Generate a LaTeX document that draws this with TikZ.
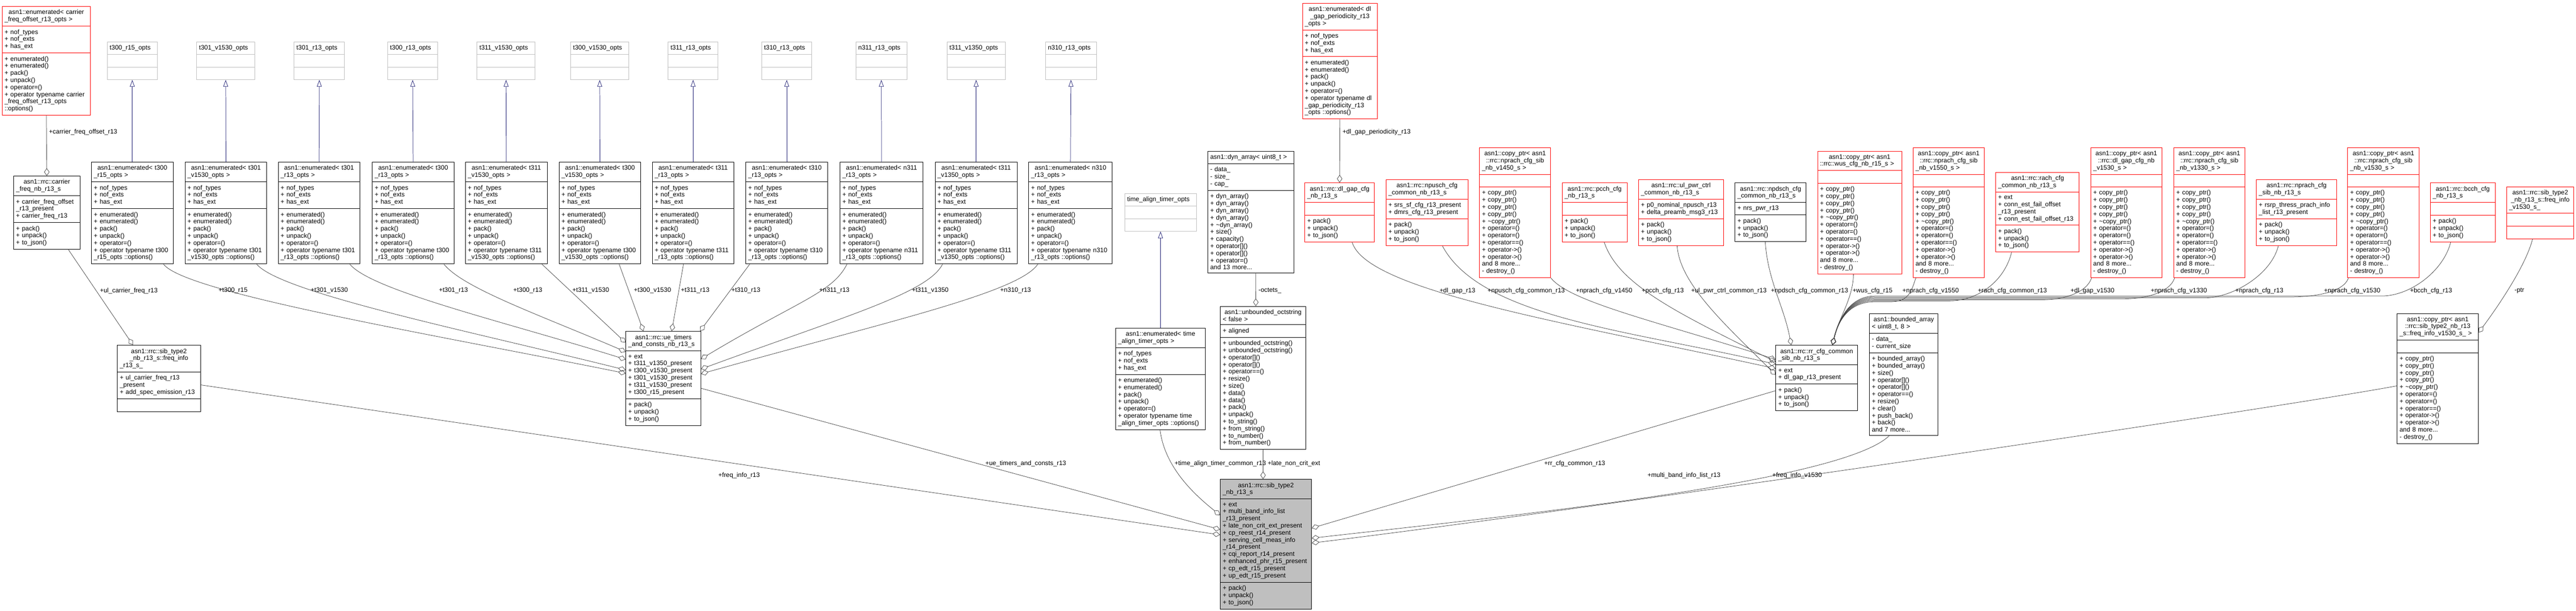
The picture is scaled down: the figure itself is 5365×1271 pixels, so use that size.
\documentclass[tikz,border=0pt]{standalone}
\usepackage{fontspec}
\setmainfont{Liberation Sans}
\usetikzlibrary{shapes.multipart,arrows.meta}
\definecolor{edgegrey}{HTML}{404040}
\definecolor{midblue}{HTML}{191970}
\definecolor{optgrey}{HTML}{BFBFBF}
\newcommand{\emptyrow}{\rule[-3pt]{0pt}{12.5pt}}
\setlength{\parindent}{0pt}
\hyphenpenalty=10000
\exhyphenpenalty=10000

\begin{document}
\begin{tikzpicture}[x=1pt, y=-1pt,
  every node/.style={font=\fontsize{13.3}{14.8}\selectfont},
  cls/.style={rectangle split, rectangle split parts=3, draw=black, line width=1pt, fill=white, text width=#1, inner xsep=5pt, inner ysep=6.4pt, align=left, anchor=north west},
  redcls/.style={cls=#1, draw=red},
  optcls/.style={cls=#1, draw=optgrey},
  maincls/.style={cls=#1, fill=optgrey},
  aggr/.style={draw=edgegrey, line width=0.8pt, -{Diamond[open, length=16pt, width=11pt]}},
  inherit/.style={draw=midblue, line width=0.8pt, -{Triangle[open, length=14pt, width=10pt]}},
  elabel/.style={anchor=west, inner sep=1pt}]
% define the page
\fill[white] (0,0) rectangle (5365,1271);
\useasboundingbox (0,0) rectangle (5365,1271);

% option classes
\node[optcls=94] (opt300r15) at (223,87) {\centering t300\_r15\_opts \nodepart{two}\emptyrow \nodepart{three}\emptyrow};
\node[optcls=111] (opt301v1530) at (409,87) {\centering t301\_v1530\_opts \nodepart{two}\emptyrow \nodepart{three}\emptyrow};
\node[optcls=95] (opt301r13) at (612,87) {\centering t301\_r13\_opts \nodepart{two}\emptyrow \nodepart{three}\emptyrow};
\node[optcls=94] (opt300r13) at (807,87) {\centering t300\_r13\_opts \nodepart{two}\emptyrow \nodepart{three}\emptyrow};
\node[optcls=111] (opt311v1530) at (993,87) {\centering t311\_v1530\_opts \nodepart{two}\emptyrow \nodepart{three}\emptyrow};
\node[optcls=111] (opt300v1530) at (1188,87) {\centering t300\_v1530\_opts \nodepart{two}\emptyrow \nodepart{three}\emptyrow};
\node[optcls=94] (opt311r13) at (1391,87) {\centering t311\_r13\_opts \nodepart{two}\emptyrow \nodepart{three}\emptyrow};
\node[optcls=94] (opt310r13) at (1586,87) {\centering t310\_r13\_opts \nodepart{two}\emptyrow \nodepart{three}\emptyrow};
\node[optcls=96] (optn311r13) at (1782,87) {\centering n311\_r13\_opts \nodepart{two}\emptyrow \nodepart{three}\emptyrow};
\node[optcls=111] (opt311v1350) at (1972,87) {\centering t311\_v1350\_opts \nodepart{two}\emptyrow \nodepart{three}\emptyrow};
\node[optcls=96] (optn310r13) at (2177,87) {\centering n310\_r13\_opts \nodepart{two}\emptyrow \nodepart{three}\emptyrow};
\node[optcls=139] (timeOpts) at (2342,402) {\centering time\_align\_timer\_opts \nodepart{two}\emptyrow \nodepart{three}\emptyrow};

% enumerated classes
\node[redcls=174] (cfoEnum) at (4,13) {\centering asn1::enumerated< carrier\\\_freq\_offset\_r13\_opts >
  \nodepart{two} + nof\_types\\+ nof\_exts\\+ has\_ext
  \nodepart{three} + enumerated()\\+ enumerated()\\+ pack()\\+ unpack()\\+ operator=()\\+ operator typename carrier\\\_freq\_offset\_r13\_opts\\::options()};
\node[cls=160] (en300r15) at (190,337) {\centering asn1::enumerated< t300\\\_r15\_opts >
  \nodepart{two} + nof\_types\\+ nof\_exts\\+ has\_ext
  \nodepart{three} + enumerated()\\+ enumerated()\\+ pack()\\+ unpack()\\+ operator=()\\+ operator typename t300\\\_r15\_opts~::options()};
\node[cls=160] (en301v1530) at (385,337) {\centering asn1::enumerated< t301\\\_v1530\_opts >
  \nodepart{two} + nof\_types\\+ nof\_exts\\+ has\_ext
  \nodepart{three} + enumerated()\\+ enumerated()\\+ pack()\\+ unpack()\\+ operator=()\\+ operator typename t301\\\_v1530\_opts~::options()};
\node[cls=160] (en301r13) at (579,337) {\centering asn1::enumerated< t301\\\_r13\_opts >
  \nodepart{two} + nof\_types\\+ nof\_exts\\+ has\_ext
  \nodepart{three} + enumerated()\\+ enumerated()\\+ pack()\\+ unpack()\\+ operator=()\\+ operator typename t301\\\_r13\_opts~::options()};
\node[cls=160] (en300r13) at (775,337) {\centering asn1::enumerated< t300\\\_r13\_opts >
  \nodepart{two} + nof\_types\\+ nof\_exts\\+ has\_ext
  \nodepart{three} + enumerated()\\+ enumerated()\\+ pack()\\+ unpack()\\+ operator=()\\+ operator typename t300\\\_r13\_opts~::options()};
\node[cls=160] (en311v1530) at (969,337) {\centering asn1::enumerated< t311\\\_v1530\_opts >
  \nodepart{two} + nof\_types\\+ nof\_exts\\+ has\_ext
  \nodepart{three} + enumerated()\\+ enumerated()\\+ pack()\\+ unpack()\\+ operator=()\\+ operator typename t311\\\_v1530\_opts~::options()};
\node[cls=160] (en300v1530) at (1164,337) {\centering asn1::enumerated< t300\\\_v1530\_opts >
  \nodepart{two} + nof\_types\\+ nof\_exts\\+ has\_ext
  \nodepart{three} + enumerated()\\+ enumerated()\\+ pack()\\+ unpack()\\+ operator=()\\+ operator typename t300\\\_v1530\_opts~::options()};
\node[cls=160] (en311r13) at (1358,337) {\centering asn1::enumerated< t311\\\_r13\_opts >
  \nodepart{two} + nof\_types\\+ nof\_exts\\+ has\_ext
  \nodepart{three} + enumerated()\\+ enumerated()\\+ pack()\\+ unpack()\\+ operator=()\\+ operator typename t311\\\_r13\_opts~::options()};
\node[cls=160] (en310r13) at (1553,337) {\centering asn1::enumerated< t310\\\_r13\_opts >
  \nodepart{two} + nof\_types\\+ nof\_exts\\+ has\_ext
  \nodepart{three} + enumerated()\\+ enumerated()\\+ pack()\\+ unpack()\\+ operator=()\\+ operator typename t310\\\_r13\_opts~::options()};
\node[cls=163] (enn311r13) at (1749,337) {\centering asn1::enumerated< n311\\\_r13\_opts >
  \nodepart{two} + nof\_types\\+ nof\_exts\\+ has\_ext
  \nodepart{three} + enumerated()\\+ enumerated()\\+ pack()\\+ unpack()\\+ operator=()\\+ operator typename n311\\\_r13\_opts~::options()};
\node[cls=161] (en311v1350) at (1947,337) {\centering asn1::enumerated< t311\\\_v1350\_opts >
  \nodepart{two} + nof\_types\\+ nof\_exts\\+ has\_ext
  \nodepart{three} + enumerated()\\+ enumerated()\\+ pack()\\+ unpack()\\+ operator=()\\+ operator typename t311\\\_v1350\_opts~::options()};
\node[cls=164] (enn310r13) at (2142,337) {\centering asn1::enumerated< n310\\\_r13\_opts >
  \nodepart{two} + nof\_types\\+ nof\_exts\\+ has\_ext
  \nodepart{three} + enumerated()\\+ enumerated()\\+ pack()\\+ unpack()\\+ operator=()\\+ operator typename n310\\\_r13\_opts~::options()};
\node[cls=177] (timeEnum) at (2323,682) {\centering asn1::enumerated< time\\\_align\_timer\_opts >
  \nodepart{two} + nof\_types\\+ nof\_exts\\+ has\_ext
  \nodepart{three} + enumerated()\\+ enumerated()\\+ pack()\\+ unpack()\\+ operator=()\\+ operator typename time\\\_align\_timer\_opts~::options()};
\node[redcls=146] (dlGapPer) at (2712,6) {\centering asn1::enumerated< dl\\\_gap\_periodicity\_r13\\\_opts >
  \nodepart{two} + nof\_types\\+ nof\_exts\\+ has\_ext
  \nodepart{three} + enumerated()\\+ enumerated()\\+ pack()\\+ unpack()\\+ operator=()\\+ operator typename dl\\\_gap\_periodicity\_r13\\\_opts~::options()};

% containers and helpers
\node[cls=169] (dynArr) at (2515,314) {\centering asn1::dyn\_array< uint8\_t >
  \nodepart{two} - data\_\\- size\_\\- cap\_
  \nodepart{three} + dyn\_array()\\+ dyn\_array()\\+ dyn\_array()\\+ dyn\_array()\\+ \textasciitilde dyn\_array()\\+ size()\\+ capacity()\\+ operator[]()\\+ operator[]()\\+ operator=()\\and 13 more...};
\node[cls=168] (octStr) at (2541,637) {\centering asn1::unbounded\_octstring\\< false >
  \nodepart{two} + aligned
  \nodepart{three} + unbounded\_octstring()\\+ unbounded\_octstring()\\+ operator[]()\\+ operator[]()\\+ operator==()\\+ resize()\\+ size()\\+ data()\\+ data()\\+ pack()\\+ unpack()\\+ to\_string()\\+ from\_string()\\+ to\_number()\\+ from\_number()};
\node[cls=133] (boundArr) at (3893,652) {\centering asn1::bounded\_array\\< uint8\_t, 8 >
  \nodepart{two} - data\_\\- current\_size
  \nodepart{three} + bounded\_array()\\+ bounded\_array()\\+ size()\\+ operator[]()\\+ operator[]()\\+ operator==()\\+ resize()\\+ clear()\\+ push\_back()\\+ back()\\and 7 more...};

% second row structs
\node[redcls=135] (dlGapCfg) at (2717,380) {\centering asn1::rrc::dl\_gap\_cfg\\\_nb\_r13\_s
  \nodepart{two}\emptyrow
  \nodepart{three} + pack()\\+ unpack()\\+ to\_json()};
\node[redcls=161] (npuschCfg) at (2886,373) {\centering asn1::rrc::npusch\_cfg\\\_common\_nb\_r13\_s
  \nodepart{two} + srs\_sf\_cfg\_r13\_present\\+ dmrs\_cfg\_r13\_present
  \nodepart{three} + pack()\\+ unpack()\\+ to\_json()};
\node[redcls=138] (cpV1450) at (3081,307) {\centering asn1::copy\_ptr< asn1\\::rrc::nprach\_cfg\_sib\\\_nb\_v1450\_s >
  \nodepart{two}\emptyrow
  \nodepart{three} + copy\_ptr()\\+ copy\_ptr()\\+ copy\_ptr()\\+ copy\_ptr()\\+ \textasciitilde copy\_ptr()\\+ operator=()\\+ operator=()\\+ operator==()\\+ operator->()\\+ operator->()\\and 8 more...\\- destroy\_()};
\node[redcls=125] (pcchCfg) at (3253,380) {\centering asn1::rrc::pcch\_cfg\\\_nb\_r13\_s
  \nodepart{two}\emptyrow
  \nodepart{three} + pack()\\+ unpack()\\+ to\_json()};
\node[redcls=167] (ulPwrCfg) at (3412,373) {\centering asn1::rrc::ul\_pwr\_ctrl\\\_common\_nb\_r13\_s
  \nodepart{two} + p0\_nominal\_npusch\_r13\\+ delta\_preamb\_msg3\_r13
  \nodepart{three} + pack()\\+ unpack()\\+ to\_json()};
\node[cls=138] (npdschCfg) at (3613,380) {\centering asn1::rrc::npdsch\_cfg\\\_common\_nb\_r13\_s
  \nodepart{two} + nrs\_pwr\_r13
  \nodepart{three} + pack()\\+ unpack()\\+ to\_json()};
\node[redcls=165] (cpWus) at (3785,314) {\centering asn1::copy\_ptr< asn1\\::rrc::wus\_cfg\_nb\_r15\_s~>
  \nodepart{two}\emptyrow
  \nodepart{three} + copy\_ptr()\\+ copy\_ptr()\\+ copy\_ptr()\\+ copy\_ptr()\\+ \textasciitilde copy\_ptr()\\+ operator=()\\+ operator=()\\+ operator==()\\+ operator->()\\+ operator->()\\and 8 more...\\- destroy\_()};
\node[redcls=138] (cpV1550) at (3984,307) {\centering asn1::copy\_ptr< asn1\\::rrc::nprach\_cfg\_sib\\\_nb\_v1550\_s >
  \nodepart{two}\emptyrow
  \nodepart{three} + copy\_ptr()\\+ copy\_ptr()\\+ copy\_ptr()\\+ copy\_ptr()\\+ \textasciitilde copy\_ptr()\\+ operator=()\\+ operator=()\\+ operator==()\\+ operator->()\\+ operator->()\\and 8 more...\\- destroy\_()};
\node[redcls=164] (rachCfg) at (4156,358) {\centering asn1::rrc::rach\_cfg\\\_common\_nb\_r13\_s
  \nodepart{two} + ext\\+ conn\_est\_fail\_offset\\\_r13\_present\\+ conn\_est\_fail\_offset\_r13
  \nodepart{three} + pack()\\+ unpack()\\+ to\_json()};
\node[redcls=138] (cpDlGap) at (4354,307) {\centering asn1::copy\_ptr< asn1\\::rrc::dl\_gap\_cfg\_nb\\\_v1530\_s >
  \nodepart{two}\emptyrow
  \nodepart{three} + copy\_ptr()\\+ copy\_ptr()\\+ copy\_ptr()\\+ copy\_ptr()\\+ \textasciitilde copy\_ptr()\\+ operator=()\\+ operator=()\\+ operator==()\\+ operator->()\\+ operator->()\\and 8 more...\\- destroy\_()};
\node[redcls=138] (cpV1330) at (4527,307) {\centering asn1::copy\_ptr< asn1\\::rrc::nprach\_cfg\_sib\\\_nb\_v1330\_s >
  \nodepart{two}\emptyrow
  \nodepart{three} + copy\_ptr()\\+ copy\_ptr()\\+ copy\_ptr()\\+ copy\_ptr()\\+ \textasciitilde copy\_ptr()\\+ operator=()\\+ operator=()\\+ operator==()\\+ operator->()\\+ operator->()\\and 8 more...\\- destroy\_()};
\node[redcls=157] (nprachCfg) at (4699,373) {\centering asn1::rrc::nprach\_cfg\\\_sib\_nb\_r13\_s
  \nodepart{two} + rsrp\_thress\_prach\_info\\\_list\_r13\_present
  \nodepart{three} + pack()\\+ unpack()\\+ to\_json()};
\node[redcls=139] (cpV1530) at (4889,307) {\centering asn1::copy\_ptr< asn1\\::rrc::nprach\_cfg\_sib\\\_nb\_v1530\_s >
  \nodepart{two}\emptyrow
  \nodepart{three} + copy\_ptr()\\+ copy\_ptr()\\+ copy\_ptr()\\+ copy\_ptr()\\+ \textasciitilde copy\_ptr()\\+ operator=()\\+ operator=()\\+ operator==()\\+ operator->()\\+ operator->()\\and 8 more...\\- destroy\_()};
\node[redcls=125] (bcchCfg) at (5061,380) {\centering asn1::rrc::bcch\_cfg\\\_nb\_r13\_s
  \nodepart{two}\emptyrow
  \nodepart{three} + pack()\\+ unpack()\\+ to\_json()};
\node[redcls=130] (freqV1530) at (5220,388) {\centering asn1::rrc::sib\_type2\\\_nb\_r13\_s::freq\_info\\\_v1530\_s\_
  \nodepart{two}\emptyrow
  \nodepart{three}\emptyrow};

% middle row structs
\node[cls=128] (carrierFreq) at (28,366) {\centering asn1::rrc::carrier\\\_freq\_nb\_r13\_s
  \nodepart{two} + carrier\_freq\_offset\\\_r13\_present\\+ carrier\_freq\_r13
  \nodepart{three} + pack()\\+ unpack()\\+ to\_json()};
\node[cls=163] (freqR13) at (244,718) {\centering asn1::rrc::sib\_type2\\\_nb\_r13\_s::freq\_info\\\_r13\_s\_
  \nodepart{two} + ul\_carrier\_freq\_r13\\\_present\\+ add\_spec\_emission\_r13
  \nodepart{three}\emptyrow};
\node[cls=146] (ueTimers) at (1303,689) {\centering asn1::rrc::ue\_timers\\\_and\_consts\_nb\_r13\_s
  \nodepart{two} + ext\\+ t311\_v1350\_present\\+ t300\_v1530\_present\\+ t301\_v1530\_present\\+ t311\_v1530\_present\\+ t300\_r15\_present
  \nodepart{three} + pack()\\+ unpack()\\+ to\_json()};
\node[cls=160] (rrCfg) at (3698,718) {\centering asn1::rrc::rr\_cfg\_common\\\_sib\_nb\_r13\_s
  \nodepart{two} + ext\\+ dl\_gap\_r13\_present
  \nodepart{three} + pack()\\+ unpack()\\+ to\_json()};
\node[cls=159] (cpFreq) at (4992,652) {\centering asn1::copy\_ptr< asn1\\::rrc::sib\_type2\_nb\_r13\\\_s::freq\_info\_v1530\_s\_~>
  \nodepart{two}\emptyrow
  \nodepart{three} + copy\_ptr()\\+ copy\_ptr()\\+ copy\_ptr()\\+ copy\_ptr()\\+ \textasciitilde copy\_ptr()\\+ operator=()\\+ operator=()\\+ operator==()\\+ operator->()\\+ operator->()\\and 8 more...\\- destroy\_()};

% the documented struct
\node[maincls=180] (sibTwo) at (2541,997) {\centering asn1::rrc::sib\_type2\\\_nb\_r13\_s
  \nodepart{two} + ext\\+ multi\_band\_info\_list\\\_r13\_present\\+ late\_non\_crit\_ext\_present\\+ cp\_reest\_r14\_present\\+ serving\_cell\_meas\_info\\\_r14\_present\\+ cqi\_report\_r14\_present\\+ enhanced\_phr\_r15\_present\\+ cp\_edt\_r15\_present\\+ up\_edt\_r15\_present
  \nodepart{three} + pack()\\+ unpack()\\+ to\_json()};

% inheritance
\draw[inherit] (en300r15.north) -- (opt300r15.south);
\draw[inherit] (en301v1530.north) -- (opt301v1530.south);
\draw[inherit] (en301r13.north) -- (opt301r13.south);
\draw[inherit] (en300r13.north) -- (opt300r13.south);
\draw[inherit] (en311v1530.north) -- (opt311v1530.south);
\draw[inherit] (en300v1530.north) -- (opt300v1530.south);
\draw[inherit] (en311r13.north) -- (opt311r13.south);
\draw[inherit] (en310r13.north) -- (opt310r13.south);
\draw[inherit] (enn311r13.north) -- (optn311r13.south);
\draw[inherit] (en311v1350.north) -- (opt311v1350.south);
\draw[inherit] (enn310r13.north) -- (optn310r13.south);
\draw[inherit] (timeEnum.north) -- (timeOpts.south);

% members on the left
\draw[aggr] (cfoEnum.south) -- (carrierFreq.north);
\node[elabel] at (101,275) {+carrier\_freq\_offset\_r13};
\draw[aggr] ([xshift=45]carrierFreq.south) -- ([xshift=-54]freqR13.north);
\node[elabel] at (207,605) {+ul\_carrier\_freq\_r13};

% timers into ue_timers
\draw[aggr] ([xshift=65]en300r15.south) .. controls +(45,60) and +(-400,-81) .. ([yshift=-88]ueTimers.north west);
\draw[aggr] ([xshift=64]en301v1530.south) .. controls +(50,60) and +(-320,-80) .. ([yshift=-81]ueTimers.north west);
\draw[aggr] ([xshift=64]en301r13.south) .. controls +(45,55) and +(-250,-78) .. ([yshift=-59]ueTimers.north west);
\draw[aggr] ([xshift=64]en300r13.south) .. controls +(40,50) and +(-180,-77) .. ([yshift=-43]ueTimers.north west);
\draw[aggr] ([xshift=74]en311v1530.south) -- ([yshift=-24]ueTimers.north west);
\draw[aggr] ([xshift=40]en300v1530.south) -- ([xshift=37]ueTimers.north west);
\draw[aggr] ([xshift=-20]en311r13.south) -- ([xshift=96]ueTimers.north west);
\draw[aggr] ([xshift=-77]en310r13.south) -- ([xshift=-2]ueTimers.north east);
\draw[aggr] ([xshift=-72]enn311r13.south) .. controls +(-30,60) and +(200,-120) .. ([yshift=-58]ueTimers.north east);
\draw[aggr] ([xshift=-70]en311v1350.south) .. controls +(-30,60) and +(300,-110) .. ([yshift=-79]ueTimers.north east);
\draw[aggr] ([xshift=-68]enn310r13.south) .. controls +(-40,60) and +(380,-107) .. ([yshift=-89]ueTimers.north east);
\node[elabel] at (454,605) {+t300\_r15};
\node[elabel] at (646,605) {+t301\_v1530};
\node[elabel] at (913,605) {+t301\_r13};
\node[elabel] at (1068,605) {+t300\_r13};
\node[elabel] at (1191,605) {+t311\_v1530};
\node[elabel] at (1319,605) {+t300\_v1530};
\node[elabel] at (1417,605) {+t311\_r13};
\node[elabel] at (1522,605) {+t310\_r13};
\node[elabel] at (1705,605) {+n311\_r13};
\node[elabel] at (1898,605) {+t311\_v1350};
\node[elabel] at (2082,605) {+n310\_r13};

% small links in the middle
\draw[aggr] ([xshift=10]dynArr.south) -- ([xshift=-15]octStr.north);
\node[elabel] at (2620,605) {-octets\_};
\draw[aggr] (dlGapPer.south) -- (dlGapCfg.north);
\node[elabel] at (2795,275) {+dl\_gap\_periodicity\_r13};
\draw[aggr] ([xshift=-16]freqV1530.south) .. controls +(-15,60) and +(30,-40) .. ([yshift=-40]cpFreq.north east);
\node[elabel] at (5236,605) {-ptr};

% members of rr_cfg_common, left side
\draw[aggr] ([xshift=26]dlGapCfg.south) .. controls +(30,100) and +(-450,-98) .. ([yshift=-49]rrCfg.north west);
\draw[aggr] ([xshift=32]npuschCfg.south) .. controls +(80,150) and +(-300,-70) .. ([yshift=-40]rrCfg.north west);
\draw[aggr] (cpV1450.south east) .. controls +(40,50) and +(-250,-80) .. ([yshift=-30]rrCfg.north west);
\draw[aggr] ([xshift=20]pcchCfg.south) .. controls +(30,90) and +(-200,-100) .. ([yshift=-35]rrCfg.north west);
\draw[aggr] ([xshift=-8]ulPwrCfg.south) .. controls +(5,80) and +(-100,-100) .. ([yshift=-62]rrCfg.north west);
\draw[aggr] ([xshift=-11]npdschCfg.south) .. controls +(5,80) and +(-15,-80) .. ([xshift=-53]rrCfg.north);
\node[elabel] at (2997,605) {+dl\_gap\_r13};
\node[elabel] at (3097,605) {+npusch\_cfg\_common\_r13};
\node[elabel] at (3281,605) {+nprach\_cfg\_v1450};
\node[elabel] at (3418,605) {+pcch\_cfg\_r13};
\node[elabel] at (3521,605) {+ul\_pwr\_ctrl\_common\_r13};
\node[elabel] at (3687,605) {+npdsch\_cfg\_common\_r13};

% members of rr_cfg_common, right side
\draw[aggr] ([xshift=-13]cpWus.south) .. controls +(0,50) and +(10,-50) .. ([xshift=33]rrCfg.north);
\draw[aggr] ([xshift=6]cpV1550.south west) .. controls +(-10,30) and +(40,0) .. (3935,628) -- (3905,628) .. controls +(-55,0) and +(12,-50) .. ([xshift=33]rrCfg.north);
\draw[aggr] ([xshift=-54]rachCfg.south) .. controls +(-15,60) and +(60,0) .. (4060,626) -- (3905,626) .. controls +(-55,0) and +(12,-50) .. ([xshift=33]rrCfg.north);
\draw[aggr] ([xshift=2]cpDlGap.south west) .. controls +(-10,30) and +(50,0) .. (4250,624) -- (3905,624) .. controls +(-55,0) and +(12,-50) .. ([xshift=33]rrCfg.north);
\draw[aggr] ([xshift=2]cpV1330.south west) .. controls +(-10,30) and +(50,0) .. (4420,622) -- (3905,622) .. controls +(-55,0) and +(12,-50) .. ([xshift=33]rrCfg.north);
\draw[aggr] ([xshift=-38]nprachCfg.south) .. controls +(-15,60) and +(60,0) .. (4590,620) -- (3905,620) .. controls +(-55,0) and +(12,-50) .. ([xshift=33]rrCfg.north);
\draw[aggr] ([xshift=2]cpV1530.south west) .. controls +(-10,30) and +(50,0) .. (4770,618) -- (3905,618) .. controls +(-55,0) and +(12,-50) .. ([xshift=33]rrCfg.north);
\draw[aggr] ([xshift=-25]bcchCfg.south) .. controls +(-15,60) and +(60,0) .. (4960,616) -- (3905,616) .. controls +(-55,0) and +(12,-50) .. ([xshift=33]rrCfg.north);
\node[elabel] at (3857,605) {+wus\_cfg\_r15};
\node[elabel] at (3961,605) {+nprach\_cfg\_v1550};
\node[elabel] at (4118,605) {+rach\_cfg\_common\_r13};
\node[elabel] at (4311,605) {+dl\_gap\_v1530};
\node[elabel] at (4478,605) {+nprach\_cfg\_v1330};
\node[elabel] at (4654,605) {+nprach\_cfg\_r13};
\node[elabel] at (4839,605) {+nprach\_cfg\_v1530};
\node[elabel] at (5018,605) {+bcch\_cfg\_r13};

% members of sib_type2_nb_r13_s
\draw[aggr] ([yshift=-83]freqR13.north east) -- ([yshift=-116]sibTwo.north west);
\draw[aggr] ([yshift=-119]ueTimers.north east) -- ([yshift=-105]sibTwo.north west);
\draw[aggr] ([xshift=-1]timeEnum.south) .. controls +(10,80) and +(-50,-40) .. ([yshift=-75]sibTwo.north west);
\draw[aggr] (octStr.south) -- (octStr.south |- sibTwo.north);
\draw[aggr] ([yshift=-95]rrCfg.north west) -- ([yshift=-102]sibTwo.north east);
\draw[aggr] ([xshift=-30]boundArr.south) .. controls +(-100,100) and +(350,-40) .. ([yshift=-123]sibTwo.north east);
\draw[aggr] ([yshift=-151]cpFreq.north west) .. controls +(-300,55) and +(500,-60) .. ([yshift=-133]sibTwo.north east);
\node[elabel] at (1495,990) {+freq\_info\_r13};
\node[elabel] at (2051,965) {+ue\_timers\_and\_consts\_r13};
\node[elabel] at (2445,965) {+time\_align\_timer\_common\_r13};
\node[elabel] at (2639,965) {+late\_non\_crit\_ext};
\node[elabel] at (3215,965) {+rr\_cfg\_common\_r13};
\node[elabel] at (3430,990) {+multi\_band\_info\_list\_r13};
\node[elabel] at (3690,990) {+freq\_info\_v1530};

\end{tikzpicture}
\end{document}
